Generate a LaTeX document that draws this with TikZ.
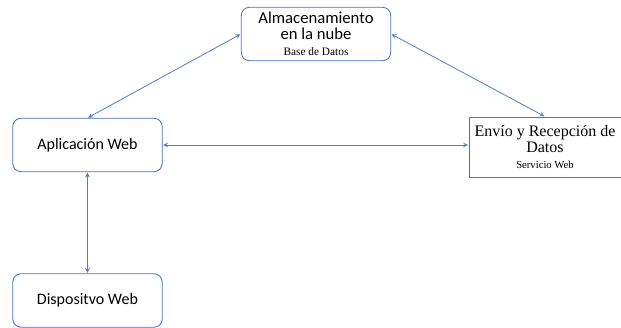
\documentclass[tikz,border=0pt]{standalone}
\usepackage{fontspec}
\setmainfont{Liberation Serif}
\newfontfamily\calibri{Carlito}
\definecolor{boxblue}{RGB}{68,114,196}
\definecolor{linkblue}{RGB}{79,129,189}
\tikzset{
    > = stealth,
    box/.style = {draw = boxblue, semithick, rounded corners = 6pt, align = center,
        minimum width = 112pt, minimum height = 40pt, inner sep = 1pt},
    link/.style = {<->, linkblue, semithick, shorten <= 0.5pt, shorten >= 0.5pt}
}

\begin{document}
\begin{tikzpicture}[x = 0.75pt, y = -0.75pt]
    \useasboundingbox (0, 0) rectangle (621, 328);

    \node[box] (nube) at (316, 34)
        {\calibri\fontsize{12.5}{15}\selectfont Almacenamiento\\
         \calibri\fontsize{12.5}{15}\selectfont en la nube\\
         \fontsize{8.5}{10}\selectfont Base de Datos};
    \node[box] (app) at (87.5, 145) {\calibri\fontsize{12}{14}\selectfont Aplicación Web};
    \node[box, rounded corners = 0pt, minimum width = 114pt, minimum height = 45pt] (envio) at (545, 147)
        {\fontsize{12}{13.5}\selectfont Envío y Recepción de\\
         \fontsize{12}{13.5}\selectfont Datos\\
         \fontsize{8}{10}\selectfont Servicio Web};
    \node[box] (disp) at (87.5, 300.5) {\calibri\fontsize{12}{14}\selectfont Dispositvo Web};

    \draw (nube.west) edge[link] (app.north);
    \draw (nube.east) edge[link] (envio.north);
    \draw (app.east) edge[link] (app.east -| envio.west);
    \draw (app.south) edge[link] (disp.north);
\end{tikzpicture}
\end{document}
